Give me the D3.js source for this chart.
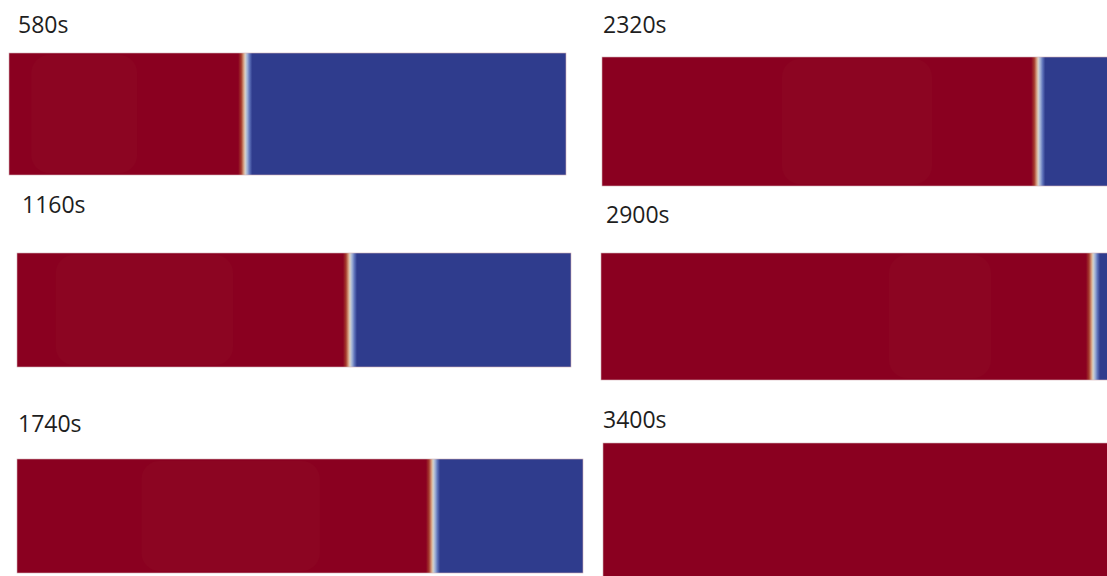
<!DOCTYPE html>
<html>
<head>
<meta charset="utf-8">
<script src="https://cdn.jsdelivr.net/npm/d3@7"></script>
<style>
    body { margin: 0; background: #fff; }
    svg { display: block; }
</style>
</head>
<body>
<div id="chart"></div>
<script>
// snapshot times
const timeLabels = ["580s", "1160s", "1740s", "2320s", "2900s", "3400s"];
// front position as a fraction of the domain length
const frontPos = [0.424, 0.601, 0.735, 0.727, 0.82, 1.0];
// faint lighter patch inside the red zone (fraction of domain)
const patchStart = [0.04, 0.07, 0.22, 0.30, 0.48, 0];
const patchEnd = [0.23, 0.39, 0.535, 0.55, 0.65, 0];

const width = 1107;
const height = 576;

// panel frames (layout only)
const frames = [
    { x: 9, y: 53, w: 557, h: 122, lx: 18, ly: 33 },
    { x: 17, y: 253, w: 554, h: 114, lx: 22, ly: 213 },
    { x: 17, y: 459, w: 566, h: 114, lx: 18, ly: 432 },
    { x: 602, y: 57, w: 600, h: 129, lx: 603, ly: 33 },
    { x: 601, y: 253, w: 600, h: 127, lx: 606, ly: 223 },
    { x: 603, y: 443, w: 600, h: 140, lx: 603, ly: 428 }
];

const red = "#8a0020";
const blue = "#2f3c8d";
const patchColor = "#8c0522";

const svg = d3.select("#chart")
    .append("svg")
    .attr("width", width)
    .attr("height", height);

const defs = svg.append("defs");

timeLabels.forEach((label, i) => {
    const f = frames[i];
    const x = d3.scaleLinear().domain([0, 1]).range([f.x, f.x + f.w]);
    const fx = x(frontPos[i]);

    // gradient across the front
    const gid = "front" + i;
    const grad = defs.append("linearGradient")
        .attr("id", gid)
        .attr("gradientUnits", "userSpaceOnUse")
        .attr("x1", x.range()[0]).attr("x2", x.range()[1])
        .attr("y1", 0).attr("y2", 0);
    const span = x.range()[1] - x.range()[0];
    const off = px => Math.max(0, Math.min(1, (px - x.range()[0]) / span));
    [
        [fx - 7, red],
        [fx - 4, "#a53a2c"],
        [fx - 1.5, "#d6a184"],
        [fx, "#d8d2c8"],
        [fx + 2, "#a3b4d8"],
        [fx + 4.5, "#5d71b9"],
        [fx + 7, blue]
    ].forEach(([px, c]) => {
        grad.append("stop").attr("offset", off(px)).attr("stop-color", c);
    });

    const g = svg.append("g");

    g.append("rect")
        .attr("x", x(0))
        .attr("y", f.y)
        .attr("width", x(1) - x(0))
        .attr("height", f.h)
        .attr("fill", `url(#${gid})`)
        .attr("stroke", "#d2b0b6")
        .attr("stroke-width", 0.6);

    // faint patch
    if (patchEnd[i] > patchStart[i]) {
        g.append("rect")
            .attr("x", x(patchStart[i]))
            .attr("y", f.y + 2)
            .attr("width", x(patchEnd[i]) - x(patchStart[i]))
            .attr("height", f.h - 4)
            .attr("rx", 18)
            .attr("fill", patchColor);
    }

    g.append("text")
        .attr("x", f.lx)
        .attr("y", f.ly)
        .style("font-family", "'Open Sans', sans-serif")
        .style("font-size", "23px")
        .attr("fill", "#1e1e1e")
        .text(label);
});
</script>
</body>
</html>
